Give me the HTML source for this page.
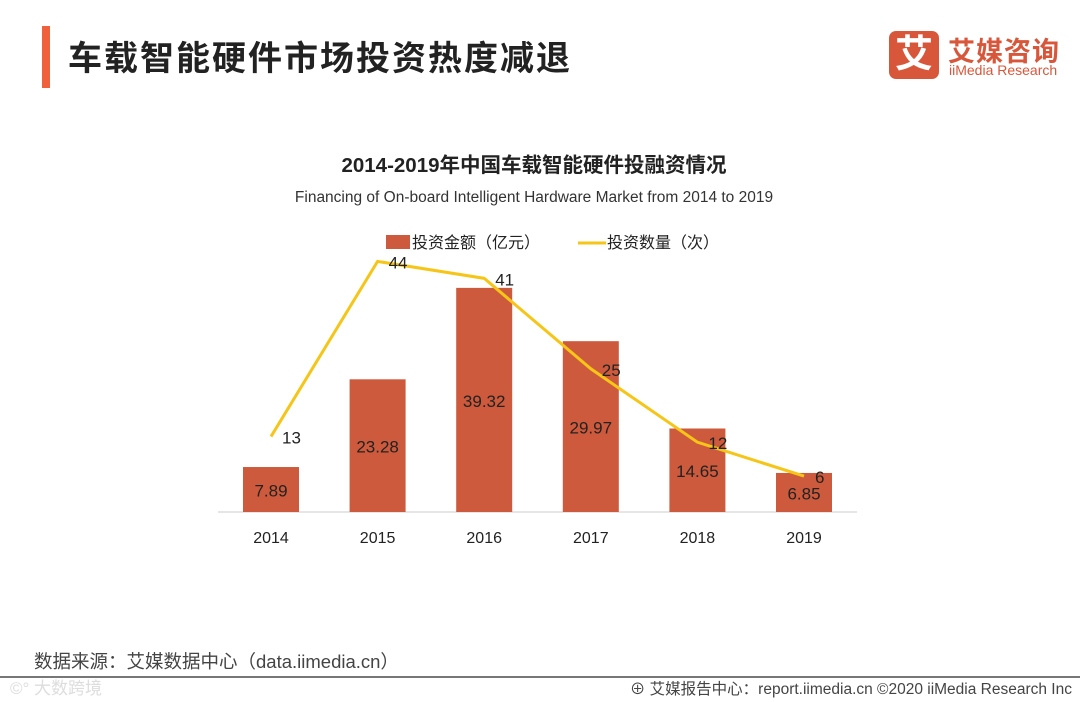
<!DOCTYPE html>
<html><head><meta charset="utf-8"><style>
body{margin:0;width:1080px;height:702px;background:#fff;overflow:hidden;font-family:"Liberation Sans","Noto Sans CJK SC",sans-serif;position:relative}
.abs{position:absolute}
</style></head><body>
<div class="abs" style="left:42px;top:26px;width:8px;height:62px;background:#f0603a"></div>
<div class="abs" style="left:68px;top:31px;font-size:34px;color:#222;font-weight:bold;letter-spacing:2px">车载智能硬件市场投资热度减退</div>
<div class="abs" style="left:889px;top:31px;width:50px;height:48px;background:#d8573a;border-radius:7px;color:#fff;font-size:38px;line-height:48px;text-align:center;font-weight:bold">艾</div>
<div class="abs" style="left:948px;top:30px;font-size:27px;color:#d8573a;font-weight:bold;letter-spacing:1px">艾媒咨询</div>
<div class="abs" style="left:949px;top:62px;font-size:14px;color:#d8573a">iiMedia Research</div>
<svg class="abs" style="left:0;top:0" width="1080" height="702">
<text x="534" y="172" text-anchor="middle" font-size="20.5" font-weight="bold" fill="#222">2014-2019年中国车载智能硬件投融资情况</text>
<text x="534" y="202" text-anchor="middle" font-size="15.5" fill="#333">Financing of On-board Intelligent Hardware Market from 2014 to 2019</text>
<g>
<rect x="386" y="235" width="24" height="14" fill="#cd5a3c"/>
<text x="412" y="248" font-size="16" fill="#222">投资金额（亿元）</text>
<line x1="578" y1="243" x2="606" y2="243" stroke="#f5c518" stroke-width="3"/>
<text x="607" y="248" font-size="16" fill="#222">投资数量（次）</text>
</g>
<line x1="218" y1="512" x2="857" y2="512" stroke="#ccc" stroke-width="1"/>
<g id="bars"></g><g id="line"></g>
<text x="34" y="668" font-size="18.5" fill="#444">数据来源：艾媒数据中心（data.iimedia.cn）</text>
<line x1="0" y1="677" x2="1080" y2="677" stroke="#777" stroke-width="2"/>
<text x="10" y="694" font-size="17" fill="#ddd">©° 大数跨境</text>
<text x="1072" y="694" text-anchor="end" font-size="15.5" fill="#444">⊕ 艾媒报告中心：report.iimedia.cn  ©2020  iiMedia Research Inc</text>
</svg>
<script>
const categories=["2014","2015","2016","2017","2018","2019"];
const amounts=[7.89,23.28,39.32,29.97,14.65,6.85];
const counts=[13,44,41,25,12,6];
const NS="http://www.w3.org/2000/svg";
const x=i=>271+i*106.6;
const yBar=v=>512-v*5.7;
const yLine=v=>510-v*5.65;
const bars=document.getElementById('bars'),line=document.getElementById('line');
function mk(t,a,p){const e=document.createElementNS(NS,t);for(const k in a)e.setAttribute(k,a[k]);p.appendChild(e);return e;}
categories.forEach((c,i)=>{
 const r=mk('rect',{x:x(i)-28,y:yBar(amounts[i]),width:56,height:512-yBar(amounts[i]),fill:'#cd5a3c'},bars);
 
 
 const t=mk('text',{x:x(i),y:(yBar(amounts[i])+512)/2+7,'text-anchor':'middle','font-size':17,fill:'#222'},bars);
 t.textContent=amounts[i];
 
 
 const l=mk('text',{x:x(i),y:543,'text-anchor':'middle','font-size':16,fill:'#222'},bars);
 l.textContent=c;
 
 
});
const pl=mk('polyline',{points:counts.map((v,i)=>x(i)+','+yLine(v)).join(' '),fill:'none',stroke:'#f5c518','stroke-width':3},line);


counts.forEach((v,i)=>{
 const t=mk('text',{x:x(i)+11,y:yLine(v)+7,'font-size':17,fill:'#222'},line);
 t.textContent=v;
 
 
});
</script>
</body></html>
